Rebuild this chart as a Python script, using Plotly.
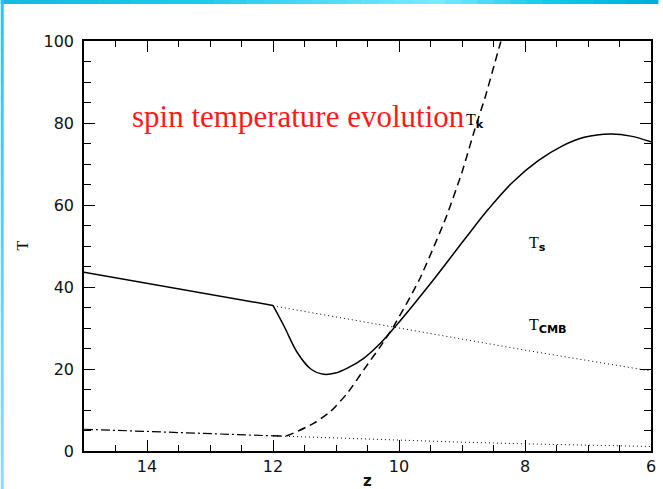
import plotly.graph_objects as go

# ---- data ----
z_ts_early = [15, 12]
t_ts_early = [43.6, 35.5]

z_ts = [12, 11.82, 11.61, 11.4, 11.19, 11.01, 10.82, 10.56, 10.3, 10.04, 9.78,
        9.44, 9.25, 8.94, 8.58, 8.2, 7.79, 7.42, 7.06, 6.64, 6.32, 6.0]
t_ts = [35.5, 30.3, 23.9, 20.0, 18.7, 19.0, 20.2, 22.6, 26.2, 30.7, 35.5,
        42.0, 45.8, 52.0, 59.0, 65.5, 70.8, 74.3, 76.5, 77.3, 76.8, 75.4]

z_tk = [12, 11.77, 11.35, 11.09, 10.82, 10.56, 10.3, 10.09, 9.68, 9.25, 8.99, 8.8, 8.63, 8.4, 8.32]
t_tk = [3.7, 3.8, 6.8, 9.6, 14.1, 19.8, 25.4, 30.3, 41.7, 57.1, 68.5, 78.3, 86.4, 99.0, 103.0]

z_tk_early = [15, 14, 13, 12]
t_tk_early = [5.3, 4.75, 4.2, 3.7]

z_tk_adiab = [12, 11, 10, 9, 8, 7, 6]
t_tk_adiab = [3.7, 3.15, 2.6, 2.15, 1.75, 1.4, 1.1]

z_cmb = [12, 10, 8, 6]
t_cmb = [35.4, 30.0, 24.6, 19.5]

x_ticks = [14, 12, 10, 8, 6]
y_ticks = [0, 20, 40, 60, 80, 100]

W, H = 663, 489
L, R, T, B = 84, 7, 41, 38
PW, PH = W - L - R, H - T - B


def px(x):
    return (x - L) / PW


def py(y):
    return (H - B - y) / PH


fig = go.Figure()
fig.add_trace(go.Scatter(x=z_cmb, y=t_cmb, mode="lines",
                         line=dict(color="black", width=1, dash="1px,3px")))
fig.add_trace(go.Scatter(x=z_tk_adiab, y=t_tk_adiab, mode="lines",
                         line=dict(color="black", width=1, dash="1px,3px")))
fig.add_trace(go.Scatter(x=z_tk_early, y=t_tk_early, mode="lines",
                         line=dict(color="black", width=1.2, dash="9px,3px,2px,3px")))
fig.add_trace(go.Scatter(x=z_tk, y=t_tk, mode="lines",
                         line=dict(color="black", width=1.5, dash="8px,5px",
                                   shape="spline", smoothing=0.6)))
fig.add_trace(go.Scatter(x=z_ts_early, y=t_ts_early, mode="lines",
                         line=dict(color="black", width=1.5)))
fig.add_trace(go.Scatter(x=z_ts, y=t_ts, mode="lines",
                         line=dict(color="black", width=1.5, shape="spline", smoothing=1.0)))

tickfont = dict(family="DejaVu Sans", size=16, color="#111")
fig.update_xaxes(range=[15, 6], tickvals=x_ticks, ticks="inside", ticklen=11,
                 tickwidth=1.3, tickcolor="black", showline=True, linecolor="black",
                 linewidth=1.5, mirror="ticks", showgrid=False, zeroline=False,
                 tickfont=tickfont,
                 minor=dict(dtick=0.5, tick0=6, ticks="inside", ticklen=6,
                            tickwidth=1.1, tickcolor="black", showgrid=False))
fig.update_yaxes(range=[0, 100], tickvals=y_ticks, ticks="inside", ticklen=11,
                 tickwidth=1.3, tickcolor="black", showline=True, linecolor="black",
                 linewidth=1.5, mirror="ticks", showgrid=False, zeroline=False,
                 tickfont=tickfont, ticklabelstandoff=5,
                 minor=dict(dtick=5, tick0=0, ticks="inside", ticklen=7,
                            tickwidth=1.1, tickcolor="black", showgrid=False))

ann = []
ann.append(dict(x=11.6, y=81.5, xref="x", yref="y", text="spin temperature evolution",
                showarrow=False, font=dict(family="Liberation Serif", size=31, color="#ff1a1a")))
sub = '<span style="font-family:DejaVu Sans;font-weight:bold">{}</span>'
ann.append(dict(x=8.8, y=80.5, xref="x", yref="y",
                text="T<sub>" + sub.format("k") + "</sub>", showarrow=False,
                font=dict(family="Liberation Serif", size=16, color="black")))
ann.append(dict(x=7.8, y=50.5, xref="x", yref="y",
                text="T<sub>" + sub.format("s") + "</sub>", showarrow=False,
                font=dict(family="Liberation Serif", size=16, color="black")))
ann.append(dict(x=7.64, y=30.5, xref="x", yref="y",
                text="T<sub>" + sub.format("CMB") + "</sub>", showarrow=False,
                font=dict(family="Liberation Serif", size=16, color="black")))
ann.append(dict(x=px(21), y=py(246), xref="paper", yref="paper", text="T",
                textangle=-90, showarrow=False, xanchor="center", yanchor="middle",
                font=dict(family="Liberation Serif", size=16, color="#111")))
ann.append(dict(x=px(370), y=py(481), xref="paper", yref="paper", text="<b>z</b>",
                showarrow=False, xanchor="center", yanchor="middle",
                font=dict(family="DejaVu Sans", size=15, color="#111")))

# slide decoration: top gradient bar and left border
shapes = []
stops = [(0, (20, 185, 225)), (200, (30, 200, 235)), (440, (120, 235, 255)),
         (550, (20, 200, 235)), (663, (0, 170, 220))]


def col_at(x):
    for (x0, c0), (x1, c1) in zip(stops[:-1], stops[1:]):
        if x0 <= x <= x1:
            f = (x - x0) / (x1 - x0)
            return "rgb({},{},{})".format(*[round(a + (b - a) * f) for a, b in zip(c0, c1)])
    return "rgb(0,170,220)"


n = 40
for i in range(n):
    x0 = W * i / n
    x1 = W * (i + 1) / n + 0.5
    shapes.append(dict(type="rect", xref="paper", yref="paper", x0=px(x0), x1=px(x1),
                       y0=py(4), y1=py(0), line=dict(width=0), fillcolor=col_at(x0 + W / n / 2), layer="above"))
m = 30
for i in range(m):
    y0 = H * i / m
    y1 = H * (i + 1) / m + 0.5
    f = (i + 0.5) / m
    c = (round(30 + 100 * f), round(200 + 26 * f), round(240 + 8 * f))
    shapes.append(dict(type="rect", xref="paper", yref="paper", x0=px(0), x1=px(3),
                       y0=py(y1), y1=py(y0), line=dict(width=0),
                       fillcolor="rgb({},{},{})".format(*c), layer="above"))

fig.update_layout(width=W, height=H, margin=dict(l=L, r=R, t=T, b=B),
                  paper_bgcolor="white", plot_bgcolor="white", showlegend=False,
                  annotations=ann, shapes=shapes)

fig.write_html("out.html")
